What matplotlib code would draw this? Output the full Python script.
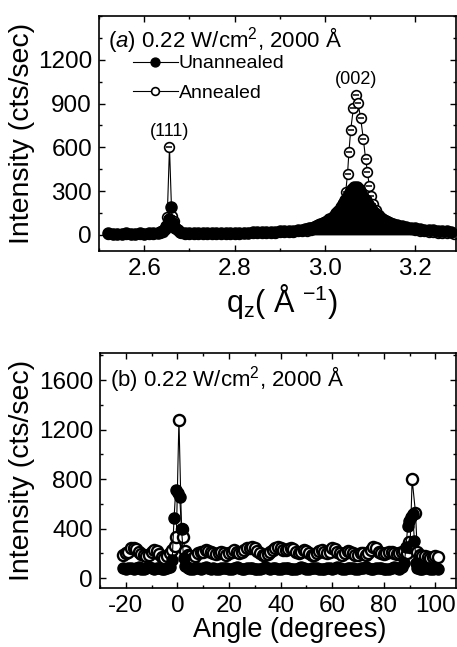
import numpy as np
import matplotlib.pyplot as plt
from matplotlib.ticker import MultipleLocator

plt.rcParams['font.family'] = ['Liberation Sans', 'DejaVu Sans']
plt.rcParams['mathtext.fontset'] = 'custom'
plt.rcParams['mathtext.rm'] = 'Liberation Sans'
plt.rcParams['mathtext.it'] = 'Liberation Sans:italic'
plt.rcParams['mathtext.bf'] = 'Liberation Sans:bold'
plt.rcParams['axes.unicode_minus'] = False

# (a) q_z scan, unannealed
q_un = [2.52, 2.53, 2.54, 2.55, 2.56, 2.57, 2.58, 2.59, 2.60, 2.61, 2.62, 2.63,
        2.635, 2.64, 2.645, 2.649, 2.654, 2.659, 2.664, 2.669, 2.675, 2.68, 2.69,
        2.70, 2.71, 2.72, 2.73, 2.74, 2.75, 2.76, 2.77, 2.78, 2.79, 2.80, 2.81, 2.82,
        2.83, 2.84, 2.85, 2.86, 2.87, 2.88, 2.89, 2.90, 2.91, 2.92, 2.93, 2.94,
        2.950, 2.955, 2.960, 2.965, 2.970, 2.975, 2.980, 2.985, 2.990, 2.995,
        3.000, 3.005, 3.010, 3.015, 3.020, 3.025, 3.030, 3.035, 3.040, 3.045,
        3.050, 3.055, 3.060, 3.065, 3.070, 3.075, 3.080, 3.085, 3.090, 3.095,
        3.100, 3.105, 3.110, 3.115, 3.120, 3.125, 3.130, 3.135, 3.140, 3.145, 3.150,
        3.16, 3.17, 3.18, 3.19, 3.20, 3.21, 3.22, 3.23, 3.24, 3.25, 3.26, 3.27, 3.28]
I_un = [10, 8, 9, 8, 10, 9, 8, 10, 9, 11, 12, 15,
        20, 30, 40, 60, 110, 194, 80, 45, 32, 22, 15,
        12, 11, 11, 12, 12, 13, 12, 13, 13, 14, 14, 15, 15,
        16, 17, 18, 19, 20, 21, 22, 24, 25, 27, 29, 32,
        35, 38, 42, 46, 50, 55, 60, 66, 73, 80,
        88, 97, 107, 118, 132, 148, 166, 188, 212, 240,
        268, 295, 318, 330, 328, 312, 288, 262, 236, 210,
        188, 168, 150, 135, 122, 111, 101, 93, 86, 80, 74,
        66, 59, 53, 48, 44, 40, 37, 34, 31, 29, 27, 25, 23]

# (a) q_z scan, annealed
q_an = [2.52, 2.53, 2.54, 2.55, 2.56, 2.57, 2.58, 2.59, 2.60, 2.61, 2.62, 2.63,
        2.636, 2.641, 2.646, 2.651, 2.656, 2.661, 2.666, 2.671, 2.676, 2.681, 2.69,
        2.70, 2.71, 2.72, 2.73, 2.74, 2.75, 2.76, 2.77, 2.78, 2.79, 2.80, 2.81, 2.82,
        2.83, 2.84, 2.85, 2.86, 2.87, 2.88, 2.89, 2.90, 2.91, 2.92, 2.93, 2.94,
        2.95, 2.96, 2.97, 2.98, 2.99, 3.00, 3.01, 3.02, 3.027, 3.033, 3.039,
        3.046, 3.050, 3.053, 3.057, 3.063, 3.068, 3.073, 3.079, 3.085, 3.090,
        3.094, 3.098, 3.101, 3.107, 3.113, 3.120, 3.127, 3.134, 3.141, 3.150,
        3.16, 3.17, 3.18, 3.19, 3.20, 3.21, 3.22, 3.23, 3.24, 3.25, 3.26, 3.27, 3.285]
I_an = [4, 3, 5, 3, 4, 5, 3, 4, 5, 6, 8, 10,
        14, 22, 45, 121, 600, 130, 95, 45, 25, 14, 8,
        6, 5, 6, 6, 7, 6, 7, 7, 8, 8, 9, 9, 10,
        11, 11, 12, 13, 14, 15, 16, 17, 19, 20, 22, 24,
        26, 30, 36, 44, 54, 66, 82, 106, 140, 174, 219,
        297, 418, 565, 720, 869, 960, 907, 800, 656, 519,
        434, 336, 270, 213, 168, 137, 115, 98, 85, 72,
        60, 52, 45, 39, 34, 30, 26, 22, 19, 16, 13, 11, 7]

# (b) angle scan, unannealed
ang_un = [-21, -20, -19, -18, -17, -16, -15, -14, -13, -12, -11, -10, -9, -8, -7, -6, -5, -4, -3,
          -2, -1.3, -0.65, 0.1, 0.9, 1.6, 2.4, 3,
          4, 5, 6, 7, 8, 9, 10, 11, 12, 13,
          14, 15, 16, 17, 18, 19, 20, 21, 22, 23,
          24, 25, 26, 27, 28, 29, 30, 31, 32, 33,
          34, 35, 36, 37, 38, 39, 40, 41, 42, 43,
          44, 45, 46, 47, 48, 49, 50, 51, 52, 53,
          54, 55, 56, 57, 58, 59, 60, 61, 62, 63,
          64, 65, 66, 67, 68, 69, 70, 71, 72, 73,
          74, 75, 76, 77, 78, 79, 80, 81, 82, 83,
          84, 85, 86, 87, 88,
          88.6, 89.3, 89.9, 90.5, 91.2, 91.9, 92.6,
          93, 94, 95, 96, 97, 98, 99, 100, 101]
I_ang_un = [80, 75, 85, 78, 72, 80, 88, 76, 70, 82, 86, 78, 74, 80, 84, 76, 72, 80, 90,
            150, 482, 711, 690, 657, 400, 160, 95,
            80, 70, 76, 84, 78, 72, 80, 86, 78, 74,
            82, 76, 70, 78, 84, 80, 74, 72, 80, 86,
            82, 76, 72, 78, 84, 80, 76, 70, 74, 82,
            86, 80, 74, 78, 82, 76, 72, 80, 84, 78,
            74, 70, 76, 82, 86, 80, 76, 72, 78, 84,
            80, 74, 70, 76, 82, 78, 74, 80, 86, 82,
            76, 72, 78, 84, 80, 74, 72, 78, 82, 86,
            80, 76, 72, 78, 84, 80, 74, 70, 76, 82,
            86, 80, 76, 90, 120,
            250, 420, 460, 495, 515, 300, 120,
            80, 74, 70, 78, 84, 76, 72, 80, 75]

# (b) angle scan, annealed
ang_an = [-21, -20, -19, -18, -17, -16, -15, -14, -13, -12, -11, -10, -9, -8, -7, -6, -5, -4, -3, -2,
          -1.0, -0.4, 0.6, 1.6, 2.2, 3,
          4, 5, 6, 7, 8, 9, 10, 11, 12, 13,
          14, 15, 16, 17, 18, 19, 20, 21, 22, 23,
          24, 25, 26, 27, 28, 29, 30, 31, 32, 33,
          34, 35, 36, 37, 38, 39, 40, 41, 42, 43,
          44, 45, 46, 47, 48, 49, 50, 51, 52, 53,
          54, 55, 56, 57, 58, 59, 60, 61, 62, 63,
          64, 65, 66, 67, 68, 69, 70, 71, 72, 73,
          74, 75, 76, 77, 78, 79, 80, 81, 82, 83,
          84, 85, 86, 87, 88,
          89, 89.6, 90.2, 91.0, 92.3, 93.0, 94,
          95, 96, 97, 98, 99, 100, 101]
I_ang_an = [190, 200, 215, 240, 245, 235, 210, 195, 185, 175, 190, 215, 230, 220, 195, 170, 160, 175, 200, 230,
            260, 334, 1280, 401, 334, 220,
            190, 175, 165, 180, 200, 210, 215, 225, 220, 210,
            200, 195, 205, 215, 205, 190, 200, 215, 225, 215,
            205, 215, 230, 240, 245, 250, 240, 220, 200, 190,
            185, 195, 210, 225, 240, 250, 245, 230, 225, 235,
            245, 235, 215, 200, 210, 225, 220, 200, 185, 190,
            205, 220, 230, 215, 200, 215, 240, 235, 215, 200,
            190, 205, 220, 215, 200, 185, 190, 205, 200, 190,
            205, 230, 250, 240, 215, 200, 195, 205, 215, 210,
            200, 195, 205, 215, 220,
            205, 293, 250, 798, 530, 215, 185,
            180, 175, 170, 165, 170, 175, 170]

title_text = '0.22 W/cm$^2$, 2000 Å'

fig = plt.figure(figsize=(4.57, 6.47), dpi=100)
ax1 = fig.add_axes([0.2166, 0.6121, 0.7812, 0.3632])
ax2 = fig.add_axes([0.2188, 0.0912, 0.7790, 0.3632])


def style(ax):
    ax.tick_params(which='both', direction='in', top=True, right=True,
                   labelsize=17.5, pad=5, width=1)
    ax.tick_params(which='major', length=4)
    ax.tick_params(which='minor', length=2.5)
    for s in ax.spines.values():
        s.set_linewidth(1.2)


# ---- panel (a)
q_un_arr = np.array(q_un)
h_an, = ax1.plot(q_an, I_an, '-', color='black', lw=0.8, marker='o', ms=7,
                 mfc='white', mec='black', mew=1.2, zorder=2)
ax1.plot(q_an, I_an, ls='none', marker='_', ms=5, mec='black', mew=1.1, zorder=2.1)
ax1.fill_between(q_un, 0, I_un, where=q_un_arr >= 2.9, color='black', lw=0, zorder=3)
h_un, = ax1.plot(q_un, I_un, '-', color='black', lw=0.8, marker='o', ms=8,
                 mfc='black', mec='black', zorder=4)

ax1.set_xlim(2.50, 3.29)
ax1.set_ylim(-110, 1500)
ax1.set_yticks([0, 300, 600, 900, 1200])
ax1.yaxis.set_minor_locator(MultipleLocator(150))
ax1.xaxis.set_major_locator(MultipleLocator(0.2))
ax1.xaxis.set_minor_locator(MultipleLocator(0.1))
style(ax1)

ax1.set_ylabel('Intensity (cts/sec)', fontsize=20.5, va='center')
ax1.yaxis.set_label_coords(-0.216, 0.5)
ax1.set_xlabel(r'q$_\mathrm{z}$( Å $^{\mathrm{-1}}$)', fontsize=22, va='center')
ax1.xaxis.set_label_coords(0.512, -0.217)

ax1.text(0.025, 0.898, r'($\it{a}$) ' + title_text, transform=ax1.transAxes,
         fontsize=16, ha='left', va='center')
ax1.text(2.656, 708, '(111)', ha='center', va='center', fontsize=13)
ax1.text(3.068, 1068, '(002)', ha='center', va='center', fontsize=13)
ax1.legend(handles=[h_un, h_an], labels=['Unannealed', 'Annealed'],
           loc='upper left', bbox_to_anchor=(0.095, 0.835), frameon=False,
           fontsize=14, handlelength=2.3, handletextpad=0.05, borderpad=0,
           borderaxespad=0, labelspacing=0.62, numpoints=1, markerscale=0.8)

# ---- panel (b)
ax2.plot(ang_an, I_ang_an, '-', color='black', lw=0.8, marker='o', ms=8,
         mfc='white', mec='black', mew=1.7, zorder=2)
ax2.plot(ang_un, I_ang_un, '-', color='black', lw=0.8, marker='o', ms=8,
         mfc='black', mec='black', zorder=4)

ax2.set_xlim(-30, 108)
ax2.set_ylim(-80, 1820)
ax2.set_yticks([0, 400, 800, 1200, 1600])
ax2.yaxis.set_minor_locator(MultipleLocator(200))
ax2.xaxis.set_major_locator(MultipleLocator(20))
ax2.xaxis.set_minor_locator(MultipleLocator(10))
style(ax2)

ax2.set_ylabel('Intensity (cts/sec)', fontsize=20.5, va='center')
ax2.yaxis.set_label_coords(-0.219, 0.5)
ax2.set_xlabel('Angle (degrees)', fontsize=19.5, va='center')
ax2.xaxis.set_label_coords(0.534, -0.18)
ax2.text(0.028, 0.887, '(b) ' + title_text, transform=ax2.transAxes,
         fontsize=16, ha='left', va='center')

fig.savefig('out.png', dpi=100)
